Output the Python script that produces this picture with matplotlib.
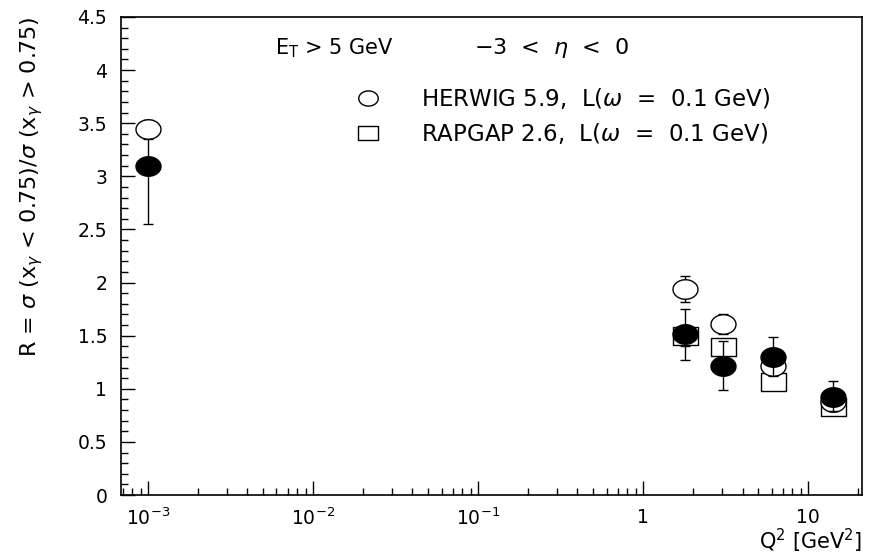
import matplotlib
matplotlib.use("Agg")
import matplotlib.pyplot as plt
import numpy as np
from matplotlib.path import Path
from matplotlib.ticker import MultipleLocator, LogLocator, FixedLocator, NullFormatter

plt.rcParams['font.family'] = ['DejaVu Sans']
plt.rcParams['mathtext.fontset'] = 'dejavusans'

# --- data ---
q2_data = [1e-3, 1.8, 3.05, 6.1, 14.2]
r_data = [3.10, 1.52, 1.21, 1.30, 0.92]
r_data_lo = [0.55, 0.25, 0.22, 0.18, 0.13]
r_data_hi = [0.25, 0.23, 0.24, 0.19, 0.15]

q2_herwig = [1e-3, 1.8, 3.05, 6.1, 14.2]
r_herwig = [3.45, 1.94, 1.61, 1.21, 0.88]
r_herwig_err = [0.08, 0.12, 0.09, 0.09, 0.07]

q2_rapgap = [1.8, 3.05, 6.1, 14.2]
r_rapgap = [1.50, 1.39, 1.06, 0.83]
r_rapgap_err = [0.10, 0.06, 0.05, 0.05]

# flattened markers like in the original picture
t = np.linspace(0, 2 * np.pi, 60)
ellipse = Path(np.column_stack([np.cos(t), 0.78 * np.sin(t)]), closed=True)
rect = Path([(-1, -0.72), (1, -0.72), (1, 0.72), (-1, 0.72), (-1, -0.72)], closed=True)

fig = plt.figure(figsize=(8.71, 5.57), dpi=100)
ax = fig.add_axes([0.139, 0.1113, 0.8507, 0.8582])

ax.errorbar(q2_rapgap, r_rapgap, yerr=r_rapgap_err, fmt='none', ecolor='black',
            elinewidth=1, capsize=3.5, zorder=2)
ax.plot(q2_rapgap, r_rapgap, linestyle='none', marker=rect, markersize=18,
        markerfacecolor='white', markeredgecolor='black', markeredgewidth=1, zorder=3)

ax.errorbar(q2_herwig, r_herwig, yerr=r_herwig_err, fmt='none', ecolor='black',
            elinewidth=1, capsize=3.5, zorder=2)
ax.plot(q2_herwig, r_herwig, linestyle='none', marker=ellipse, markersize=18,
        markerfacecolor='white', markeredgecolor='black', markeredgewidth=1, zorder=3)

ax.errorbar(q2_data, r_data, yerr=[r_data_lo, r_data_hi], fmt='none', ecolor='black',
            elinewidth=1, capsize=3.5, zorder=4)
ax.plot(q2_data, r_data, linestyle='none', marker=ellipse, markersize=18,
        markerfacecolor='black', markeredgecolor='black', zorder=5)

ax.set_xscale('log')
ax.set_xlim(6.86e-4, 21.2)
ax.set_ylim(0, 4.5)

ax.xaxis.set_major_locator(FixedLocator([1e-3, 1e-2, 1e-1, 1, 10]))
ax.set_xticklabels([r'$10^{-3}$', r'$10^{-2}$', r'$10^{-1}$', '1', '10'])
ax.xaxis.set_minor_locator(LogLocator(base=10, subs=np.arange(2, 10)))
ax.xaxis.set_minor_formatter(NullFormatter())
ax.yaxis.set_major_locator(MultipleLocator(0.5))
ax.yaxis.set_minor_locator(MultipleLocator(0.1))
ax.set_yticks(np.arange(0, 4.51, 0.5))
ax.set_yticklabels(['0', '0.5', '1', '1.5', '2', '2.5', '3', '3.5', '4', '4.5'])

ax.tick_params(which='both', direction='in', top=False, right=False, labelsize=13.5, width=1)
ax.tick_params(which='major', length=10)
ax.tick_params(which='minor', length=5)
ax.tick_params(axis='x', pad=9)
ax.tick_params(axis='y', pad=10)
for s in ax.spines.values():
    s.set_linewidth(1.2)

ax.set_ylabel(r'R = $\sigma$ (x$_\gamma$ < 0.75)/$\sigma$ (x$_\gamma$ > 0.75)', fontsize=16)
ax.yaxis.set_label_coords(-0.103, 0.645)
ax.set_xlabel(r'Q$^2$ [GeV$^2$]', fontsize=15, loc='right')
ax.xaxis.set_label_coords(1.0, -0.067)

ax.text(0.208, 0.935, r'E$_\mathrm{T}$ > 5 GeV', transform=ax.transAxes, fontsize=15, va='center')
ax.text(0.476, 0.935, r'$-$3  <  $\eta$  <  0', transform=ax.transAxes, fontsize=16, va='center')

ax.plot([0.333], [0.83], transform=ax.transAxes, marker=ellipse, markersize=14,
        markerfacecolor='white', markeredgecolor='black', linestyle='none', clip_on=False)
ax.text(0.405, 0.83, r'HERWIG 5.9,  L($\omega$  =  0.1 GeV)', transform=ax.transAxes,
        fontsize=16.5, va='center')
ax.plot([0.333], [0.757], transform=ax.transAxes, marker=rect, markersize=14,
        markerfacecolor='white', markeredgecolor='black', linestyle='none', clip_on=False)
ax.text(0.405, 0.757, r'RAPGAP 2.6,  L($\omega$  =  0.1 GeV)', transform=ax.transAxes,
        fontsize=16.5, va='center')

fig.savefig('out.png', dpi=100)
